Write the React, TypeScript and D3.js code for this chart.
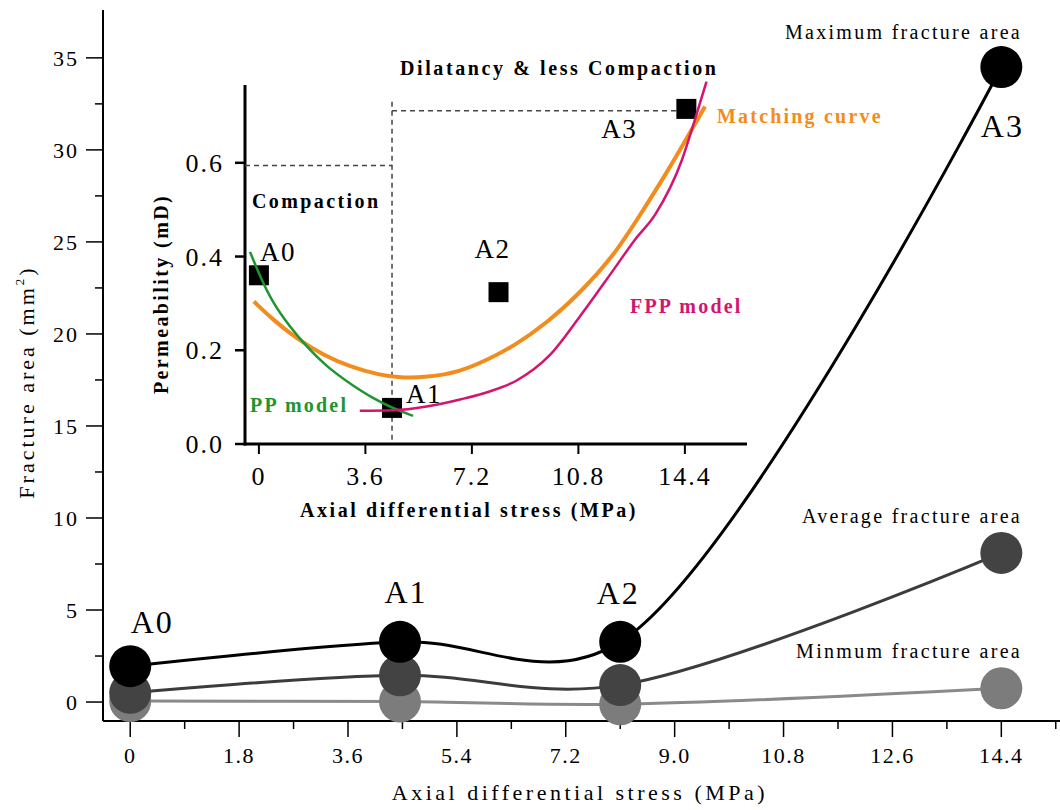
import React from "react";
import * as d3 from "d3";

// main chart: fracture area at each loading stage
const stages = ["A0", "A1", "A2", "A3"];
const stress = [0, 4.46, 8.1, 14.4];
const maxArea = [1.95, 3.27, 3.27, 34.5];
const avgArea = [0.5, 1.45, 0.92, 8.1];
const minArea = [0.05, 0.03, -0.12, 0.75];

const xTicks = [0, 1.8, 3.6, 5.4, 7.2, 9.0, 10.8, 12.6, 14.4];
const xTickLabels = ["0", "1.8", "3.6", "5.4", "7.2", "9.0", "10.8", "12.6", "14.4"];
const yTicks = [0, 5, 10, 15, 20, 25, 30, 35];

// inset: permeability vs stress
const permStress = [0, 4.5, 8.1, 14.45];
const permeability = [0.36, 0.077, 0.324, 0.715];

const ppX = [-0.3, 0.04, 0.48, 1.05, 1.61, 2.29, 3.07, 3.86, 4.54, 5.21];
const ppY = [0.41, 0.357, 0.3, 0.25, 0.208, 0.165, 0.129, 0.097, 0.076, 0.06];

const fppX = [3.41, 4.54, 5.67, 6.8, 7.8, 8.7, 9.84, 10.85, 11.98, 12.7, 13.4, 14.3, 14.74, 15.13];
const fppY = [0.071, 0.072, 0.08, 0.095, 0.112, 0.135, 0.19, 0.272, 0.371, 0.435, 0.49, 0.606, 0.692, 0.773];

const matchX = [-0.17, 0.48, 1.27, 2.17, 3.07, 4.09, 4.77, 5.67, 6.8, 7.7, 8.6, 9.73, 10.85, 11.98, 12.9, 13.78, 14.56, 15.08];
const matchY = [0.304, 0.265, 0.225, 0.19, 0.165, 0.147, 0.141, 0.142, 0.154, 0.179, 0.208, 0.258, 0.322, 0.4, 0.49, 0.578, 0.663, 0.72];

const insetXTicks = [0, 3.6, 7.2, 10.8, 14.4];
const insetXTickLabels = ["0", "3.6", "7.2", "10.8", "14.4"];
const insetYTicks = [0, 0.2, 0.4, 0.6];
const insetYTickLabels = ["0.0", "0.2", "0.4", "0.6"];

// dashed guide lines in the inset
const compactionLimit = 0.594;
const dilatancyLevel = 0.711;
const dividerStress = 4.5;
const dividerTop = 0.73;

const serif = "'Liberation Serif', 'Times New Roman', serif";

const App = () => {
  const W = 1060;
  const H = 810;

  const x = d3.scaleLinear().domain([-0.45, 15.37]).range([103, 1060]);
  const y = d3.scaleLinear().domain([-1.03, 37.6]).range([721, 10]);

  const ix = d3.scaleLinear().domain([-0.47, 16.5]).range([245, 747]);
  const iy = d3.scaleLinear().domain([0, 0.766]).range([444, 85]);

  const mainLine = (vals: number[]) =>
    d3
      .line<number>()
      .x((_, i) => x(stress[i]))
      .y((d) => y(d))
      .curve(d3.curveCatmullRom.alpha(0.4))(vals) || "";

  const insetLine = (xs: number[], ys: number[], curve: d3.CurveFactory) =>
    d3
      .line<number>()
      .x((d) => ix(d))
      .y((_, i) => iy(ys[i]))
      .curve(curve)(xs) || "";

  const series = [
    { vals: minArea, line: "#8a8a8a", fill: "#7c7c7c" },
    { vals: avgArea, line: "#3c3c3c", fill: "#434343" },
    { vals: maxArea, line: "#000", fill: "#000" },
  ];

  // label offsets for stage names (main chart)
  const stageDx = [22, 6, -2, 1];
  const stageDy = [-33, -39, -38, 70];

  const minorX = d3.range(0, 15.4, 0.9).filter((v) => Math.abs(v / 1.8 - Math.round(v / 1.8)) > 0.01);
  const minorY = d3.range(2.5, 37.5, 5);

  return (
    <div style={{ position: "absolute", left: 0, top: 0 }}>
      <svg width={W} height={H} style={{ display: "block", background: "#fff" }} fontFamily={serif}>
        {/* ---------- main axes ---------- */}
        <line x1={103} x2={103} y1={10} y2={721} stroke="#000" strokeWidth={2} />
        <line x1={103} x2={1060} y1={721} y2={721} stroke="#000" strokeWidth={2} />
        {yTicks.map((t) => (
          <g key={"yt" + t}>
            <line x1={86} x2={103} y1={y(t)} y2={y(t)} stroke="#000" strokeWidth={1.5} />
            <text x={79} y={y(t)} dy="0.35em" textAnchor="end" fontSize={22} letterSpacing={2}>
              {t}
            </text>
          </g>
        ))}
        {minorY.map((t) => (
          <line key={"ym" + t} x1={95} x2={103} y1={y(t)} y2={y(t)} stroke="#000" strokeWidth={1.5} />
        ))}
        {xTicks.map((t, i) => (
          <g key={"xt" + t}>
            <line x1={x(t)} x2={x(t)} y1={721} y2={737} stroke="#000" strokeWidth={1.5} />
            <text x={x(t)} y={763} textAnchor="middle" fontSize={22} letterSpacing={1.5}>
              {xTickLabels[i]}
            </text>
          </g>
        ))}
        {minorX.map((t) => (
          <line key={"xm" + t} x1={x(t)} x2={x(t)} y1={721} y2={729} stroke="#000" strokeWidth={1.5} />
        ))}
        <text x={580} y={800} textAnchor="middle" fontSize={22} letterSpacing={3.5}>
          Axial differential stress (MPa)
        </text>
        <text
          transform={`translate(34,382) rotate(-90)`}
          textAnchor="middle"
          fontSize={22}
          letterSpacing={3}
        >
          Fracture area (mm<tspan fontSize={13} dy={-10}>2</tspan>
          <tspan dy={10}>)</tspan>
        </text>

        {/* ---------- main series ---------- */}
        {series.map((s, si) => (
          <g key={"s" + si}>
            <path d={mainLine(s.vals)} fill="none" stroke={s.line} strokeWidth={3} />
            {s.vals.map((v, i) => (
              <circle key={i} cx={x(stress[i])} cy={y(v)} r={21} fill={s.fill} />
            ))}
          </g>
        ))}
        {stages.map((st, i) => (
          <text
            key={st}
            x={x(stress[i]) + stageDx[i]}
            y={y(maxArea[i]) + stageDy[i]}
            textAnchor="middle"
            fontSize={32}
            letterSpacing={2}
          >
            {st}
          </text>
        ))}
        <text x={1022} y={39} textAnchor="end" fontSize={20} letterSpacing={2.3}>
          Maximum fracture area
        </text>
        <text x={1022} y={523} textAnchor="end" fontSize={20} letterSpacing={2.3}>
          Average fracture area
        </text>
        <text x={1022} y={658} textAnchor="end" fontSize={20} letterSpacing={2.3}>
          Minmum fracture area
        </text>

        {/* ---------- inset ---------- */}
        <line x1={245} x2={245} y1={85} y2={445.5} stroke="#000" strokeWidth={3} />
        <line x1={243.5} x2={747} y1={444} y2={444} stroke="#000" strokeWidth={3} />
        {insetYTicks.map((t, i) => (
          <g key={"iyt" + t}>
            <line x1={235} x2={245} y1={iy(t)} y2={iy(t)} stroke="#000" strokeWidth={2.5} />
            <text x={224} y={iy(t)} dy="0.35em" textAnchor="end" fontSize={26} letterSpacing={2}>
              {insetYTickLabels[i]}
            </text>
          </g>
        ))}
        {insetXTicks.map((t, i) => (
          <g key={"ixt" + t}>
            <line x1={ix(t)} x2={ix(t)} y1={444} y2={454} stroke="#000" strokeWidth={2} />
            <text x={ix(t)} y={485} textAnchor="middle" fontSize={26} letterSpacing={2}>
              {insetXTickLabels[i]}
            </text>
          </g>
        ))}
        <text x={469} y={517} textAnchor="middle" fontSize={20} fontWeight="bold" letterSpacing={2.6}>
          Axial differential stress (MPa)
        </text>
        <text
          transform={`translate(168,294) rotate(-90)`}
          textAnchor="middle"
          fontSize={20}
          fontWeight="bold"
          letterSpacing={2.4}
        >
          Permeability (mD)
        </text>

        {/* dashed guides */}
        <g stroke="#444" strokeWidth={1.5} strokeDasharray="5,4" fill="none">
          <line x1={ix(dividerStress)} x2={ix(dividerStress)} y1={iy(dividerTop)} y2={iy(0)} />
          <line x1={ix(-0.47)} x2={ix(dividerStress)} y1={iy(compactionLimit)} y2={iy(compactionLimit)} />
          <line x1={ix(dividerStress)} x2={ix(permStress[3])} y1={iy(dilatancyLevel)} y2={iy(dilatancyLevel)} />
        </g>
        <text x={252} y={208} fontSize={20} fontWeight="bold" letterSpacing={2.4}>
          Compaction
        </text>
        <text x={400} y={75} fontSize={20} fontWeight="bold" letterSpacing={2.6}>
          Dilatancy &amp; less Compaction
        </text>

        {/* measured permeability */}
        {permStress.map((s, i) => (
          <rect key={"sq" + i} x={ix(s) - 10} y={iy(permeability[i]) - 10} width={20} height={20} fill="#000" />
        ))}

        <path d={insetLine(matchX, matchY, d3.curveBasis)} fill="none" stroke="#f28c1c" strokeWidth={4} />
        <path d={insetLine(ppX, ppY, d3.curveBasis)} fill="none" stroke="#1c9630" strokeWidth={2.5} />
        <path d={insetLine(fppX, fppY, d3.curveMonotoneX)} fill="none" stroke="#d4146e" strokeWidth={2.5} />

        <text x={ix(permStress[0]) + 1} y={iy(permeability[0]) - 14} fontSize={27} letterSpacing={1.5}>
          A0
        </text>
        <text x={ix(permStress[1]) + 14} y={iy(permeability[1]) - 5} fontSize={27} letterSpacing={1.5}>
          A1
        </text>
        <text x={ix(permStress[2]) - 6} y={iy(permeability[2]) - 34} textAnchor="middle" fontSize={27} letterSpacing={1.5}>
          A2
        </text>
        <text x={ix(permStress[3]) - 49} y={iy(permeability[3]) + 29} textAnchor="end" fontSize={27} letterSpacing={1.5}>
          A3
        </text>

        <text x={250} y={412} fontSize={20} fontWeight="bold" fill="#1c9630" letterSpacing={2.2}>
          PP model
        </text>
        <text x={630} y={313} fontSize={20} fontWeight="bold" fill="#d4146e" letterSpacing={2.2}>
          FPP model
        </text>
        <text x={717} y={123} fontSize={20} fontWeight="bold" fill="#f28c1c" letterSpacing={2.2}>
          Matching curve
        </text>
      </svg>
    </div>
  );
};

export default App;
